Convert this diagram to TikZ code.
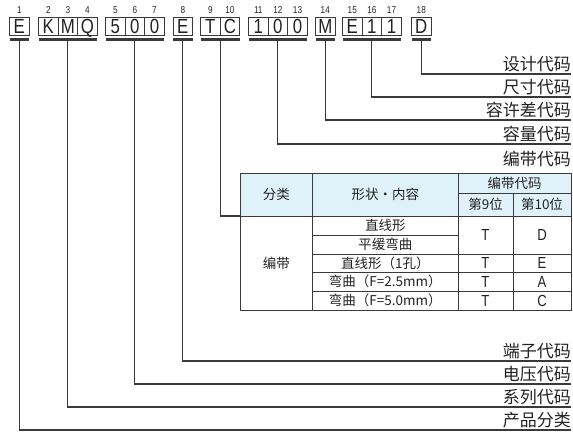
\documentclass[tikz,border=0pt]{standalone}
\usepackage{fontspec}
\newfontfamily\cjk{Noto Sans CJK SC}
\newfontfamily\codefont[FakeStretch=0.82]{Liberation Sans}
\definecolor{linec}{RGB}{58,58,58}
\definecolor{hdr}{RGB}{223,242,250}
\definecolor{txt}{RGB}{34,34,34}
\newcommand\tcell[7]{%
  \node[cell,#6,anchor=north west,minimum width={#4pt-#2pt},minimum height={#5pt-#3pt}] (#1) at (#2,#3) {#7};}
\begin{document}
\begin{tikzpicture}[x=1pt,y=-1pt,
  codebox/.style={draw=linec, line width=1pt, minimum width=19.6pt, minimum height=18pt, inner sep=0pt, outer sep=0pt, text=txt, text height=14.4pt, text depth=0pt, font=\codefont\fontsize{20.5}{20.5}\selectfont},
  posnum/.style={font=\codefont\fontsize{10}{10}\selectfont, inner sep=0pt, text=txt},
  bar/.style={line width=3pt, draw=linec},
  leader/.style={line width=1.1pt, draw=linec},
  lbl/.style={font=\cjk\fontsize{17}{17}\selectfont, anchor=south east, inner sep=0pt, text=txt},
  cell/.style={draw=linec, line width=0.9pt, inner sep=0pt, outer sep=0pt, text=txt, font=\cjk\fontsize{13.5}{13.5}\selectfont},
  hd/.style={fill=hdr},
  lat/.style={font=\codefont\fontsize{16}{16}\selectfont},
]
\useasboundingbox (0,0) rectangle (573,432);

% code boxes and position numbers
\foreach \i/\x/\c in {1/19.3/E, 2/48.3/K, 3/67.9/M, 4/87.5/Q, 5/115.3/5, 6/134.9/0, 7/154.5/0,
  8/182.8/E, 9/210.3/T, 10/229.9/C, 11/258.3/1, 12/277.9/0, 13/297.5/0, 14/325.3/M,
  15/352.3/E, 16/371.9/1, 17/391.5/1, 18/421.3/D}{
  \node[codebox] (b\i) at (\x,26) {\c};
  \node[posnum] (n\i) at (\x,10) {\i};
}

% underline bars
\foreach \a/\b in {1/1, 2/4, 5/7, 8/8, 9/10, 11/13, 14/14, 15/17, 18/18}{
  \draw[bar] ([yshift=-4pt]b\a.south west) -- ([yshift=-4pt]b\b.south east);
}

% end coordinates of leaders
\coordinate (eD) at (571,74);
\coordinate (eS) at (571,97);
\coordinate (eT) at (571,120);
\coordinate (eC) at (571,144);
\coordinate (eTerm) at (571,361);
\coordinate (eV) at (571,384);
\coordinate (eSer) at (571,407);
\coordinate (eP) at (571,430);

% labels
\node[lbl] (lD) at ([yshift=1.5pt]eD) {设计代码};
\node[lbl] (lS) at ([yshift=1.5pt]eS) {尺寸代码};
\node[lbl] (lT) at ([yshift=1.5pt]eT) {容许差代码};
\node[lbl] (lC) at ([yshift=1.5pt]eC) {容量代码};
\node[lbl] (lTape) at (571,167) {编带代码};
\node[lbl] (lTerm) at ([yshift=1.5pt]eTerm) {端子代码};
\node[lbl] (lV) at ([yshift=1.5pt]eV) {电压代码};
\node[lbl] (lSer) at ([yshift=1.5pt]eSer) {系列代码};
\node[lbl] (lP) at ([yshift=1.5pt]eP) {产品分类};

% table
\tcell{h1}{240}{173}{312.5}{216}{hd}{分类}
\tcell{h2}{312.5}{173}{458}{216}{hd}{形状・内容}
\tcell{h3}{458}{173}{571}{193.5}{hd}{编带代码}
\tcell{h4}{458}{193.5}{513}{216}{hd}{第9位}
\tcell{h5}{513}{193.5}{571}{216}{hd}{第10位}
\tcell{c1}{240}{216}{312.5}{310}{}{编带}
\tcell{s1}{312.5}{216}{458}{235}{}{直线形}
\tcell{s2}{312.5}{235}{458}{254}{}{平缓弯曲}
\tcell{s3}{312.5}{254}{458}{272.5}{}{直线形（1孔）}
\tcell{s4}{312.5}{272.5}{458}{291}{}{弯曲（F=2.5mm）}
\tcell{s5}{312.5}{291}{458}{310}{}{弯曲（F=5.0mm）}
\tcell{t1}{458}{216}{513}{254}{lat}{T}
\tcell{u1}{513}{216}{571}{254}{lat}{D}
\tcell{t3}{458}{254}{513}{272.5}{lat}{T}
\tcell{u3}{513}{254}{571}{272.5}{lat}{E}
\tcell{t4}{458}{272.5}{513}{291}{lat}{T}
\tcell{u4}{513}{272.5}{571}{291}{lat}{A}
\tcell{t5}{458}{291}{513}{310}{lat}{T}
\tcell{u5}{513}{291}{571}{310}{lat}{C}

% leaders
\draw[leader] ([yshift=-5pt]b18.south) |- (eD);
\draw[leader] ([yshift=-5pt]b16.south) |- (eS);
\draw[leader] ([yshift=-5pt]b14.south) |- (eT);
\draw[leader] ([yshift=-5pt]b12.south) |- (eC);
\draw[leader] ([yshift=-5pt]b9.south east) |- (h1.south west);
\draw[leader] ([yshift=-5pt]b8.south) |- (eTerm);
\draw[leader] ([yshift=-5pt]b6.south) |- (eV);
\draw[leader] ([yshift=-5pt]b3.south) |- (eSer);
\draw[leader] ([yshift=-5pt]b1.south) |- (eP);
\end{tikzpicture}
\end{document}
